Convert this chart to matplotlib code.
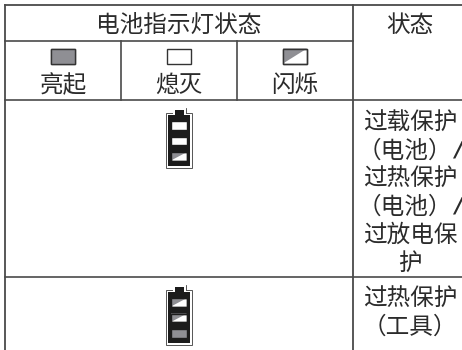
import matplotlib
matplotlib.use("Agg")
from matplotlib import pyplot as plt
from matplotlib.patches import Polygon, Rectangle

plt.rcParams['font.family'] = ['Noto Sans CJK SC', 'DejaVu Sans']

LINE = '#4a4a4a'
GRAY = '#8f8f94'
TEXT = '#2b2b2b'

header = '电池指示灯状态'
status_header = '状态'
legend_labels = ['亮起', '熄灭', '闪烁']
legend_states = ['on', 'off', 'blink']
status_rows = [
    ['过载保护', '（电池）/', '过热保护', '（电池）/', '过放电保', '护'],
    ['过热保护', '（工具）'],
]
battery_rows = [
    ['off', 'off', 'blink'],
    ['blink', 'blink', 'on'],
]


#one lamp, flat gray, empty or half and half
def lamp(ax, x, y, w, h, state, edge):
    ax.add_patch(Rectangle((x, y), w, h, fc='white', ec=edge, lw=1.0, zorder=4))
    if state == 'on':
        ax.add_patch(Rectangle((x, y), w, h, fc=GRAY, ec=edge, lw=1.0, zorder=5))
    if state == 'blink':
        ax.add_patch(Polygon([(x, y), (x + w, y), (x, y + h)], fc=GRAY, ec='none', zorder=5))
        ax.add_patch(Rectangle((x, y), w, h, fc='none', ec=edge, lw=1.0, zorder=6))


def battery(ax, top, states):
    #thin outer outline, white gap, black body inside
    ax.add_patch(Rectangle((172.5, top), 13, 8, fc='white', ec='#555555', lw=0.7, zorder=2))
    ax.add_patch(Rectangle((166, top + 5), 26, 55, fc='white', ec='#555555', lw=0.7, zorder=2))
    ax.add_patch(Rectangle((172.5, top + 0.7), 13, 8, fc='white', ec='none', zorder=2.5))
    ax.add_patch(Rectangle((174.5, top + 2), 9, 7, fc='#1c1c1c', ec='none', zorder=3))
    ax.add_patch(Rectangle((168, top + 7), 22, 51, fc='#1c1c1c', ec='none', zorder=3))
    for i, state in enumerate(states):
        lamp(ax, 171, top + 13.5 + i * 15.5, 16, 8.5, state, '#1c1c1c')


#baseline anchored so lines with brackets sit level with the others
def label(ax, x, y, s):
    ax.text(x, y, s, ha='center', va='baseline', fontsize=17, color=TEXT, weight='medium')


fig = plt.figure(figsize=(4.62, 3.5), dpi=100)
ax = fig.add_axes([0, 0, 1, 1])
ax.set_xlim(0, 462)
ax.set_ylim(350, 0)
ax.axis('off')

#table rules
ax.plot([5, 462], [5, 5], color=LINE, lw=1.3)
ax.plot([5, 352.5], [40.5, 40.5], color=LINE, lw=1.2)
ax.plot([5, 462], [100, 100], color=LINE, lw=1.2)
ax.plot([5, 462], [277, 277], color=LINE, lw=1.2)
ax.plot([5, 5], [5, 350], color=LINE, lw=1.3)
ax.plot([352.5, 352.5], [5, 350], color=LINE, lw=1.3)
ax.plot([120.5, 120.5], [40.5, 100], color=LINE, lw=1.2)
ax.plot([236.5, 236.5], [40.5, 100], color=LINE, lw=1.2)

label(ax, 179, 32, header)
label(ax, 410, 32, status_header)

legend_x = [63, 179, 295]
for cx, text, state in zip(legend_x, legend_labels, legend_states):
    lamp(ax, cx - 12, 48.5, 24, 15, state, '#333333')
    label(ax, cx, 92, text)

for top, states in zip([107.5, 284.5], battery_rows):
    battery(ax, top, states)

for first_y, lines in zip([130, 306], status_rows):
    for i, line in enumerate(lines):
        y = first_y + i * 28
        if line.endswith('/'):
            label(ax, 405, y, line[:-1])
            ax.text(458, y - 1, '/', ha='center', va='baseline', fontsize=15, color=TEXT,
                    family='DejaVu Sans', weight='bold', style='italic')
        else:
            label(ax, 410, y, line)

fig.savefig('out.png', dpi=100)
